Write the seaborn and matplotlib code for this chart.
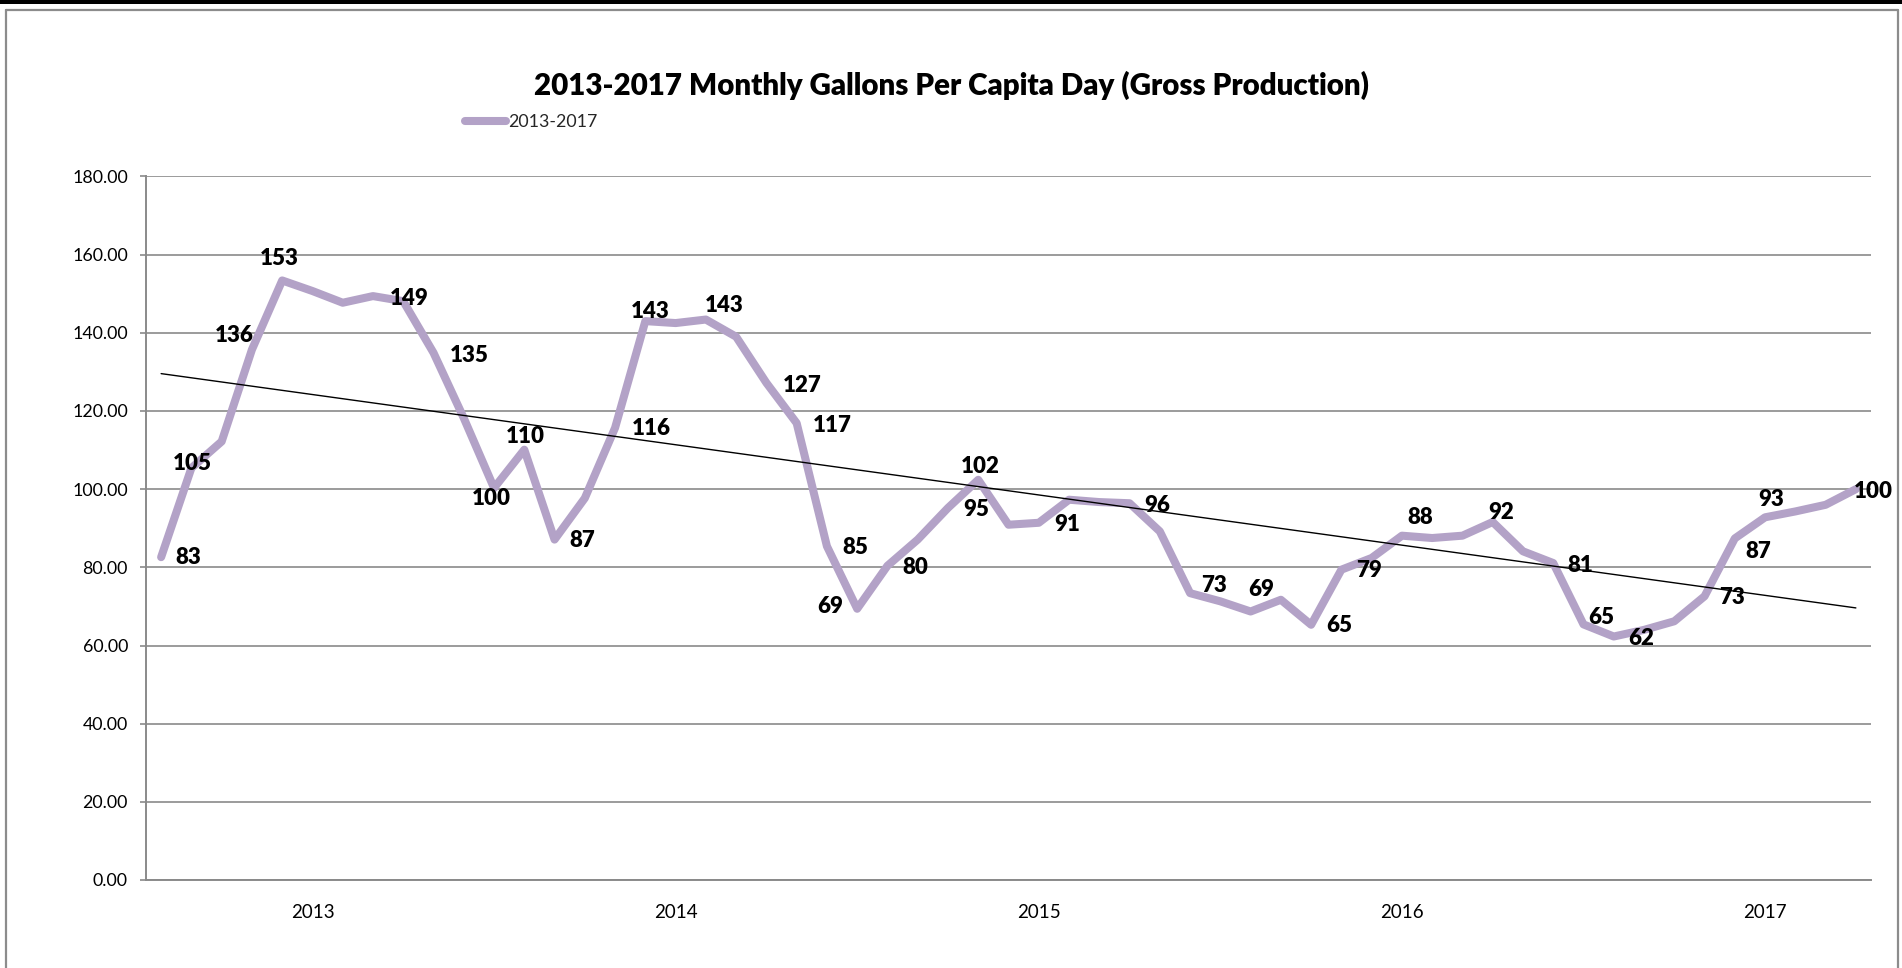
import numpy as np
import pandas as pd
import matplotlib
matplotlib.use("Agg")
import matplotlib.pyplot as plt
from matplotlib.lines import Line2D
from matplotlib.patches import Rectangle
import seaborn as sns

# ---------------- data ----------------
title = "2013-2017 Monthly Gallons Per Capita Day (Gross Production)"
series_name = "2013-2017"
gpcd = [82.6, 105.4, 112.2, 135.7, 153.4, 150.7, 147.7, 149.4, 148.1, 134.9,
        118.2, 100.3, 110.1, 87.1, 97.7, 115.7, 143.0, 142.5, 143.4, 139.0,
        127.2, 116.9, 85.4, 69.4, 80.4, 87.1, 95.2, 102.4, 90.9, 91.4,
        97.3, 96.7, 96.4, 89.2, 73.4, 71.3, 68.7, 71.7, 65.3, 79.4,
        82.4, 88.1, 87.5, 88.1, 91.6, 84.1, 81.1, 65.4, 62.3, 64.0,
        66.2, 72.6, 87.4, 92.8, 94.3, 96.0, 100.0]
year_tick_pos = [5, 17, 29, 41, 53]
year_tick_labels = ["2013", "2014", "2015", "2016", "2017"]
y_ticks = [0, 20, 40, 60, 80, 100, 120, 140, 160, 180]
labeled_points = [0, 1, 3, 4, 7, 9, 11, 12, 13, 15, 16, 18, 20, 21, 22, 23, 24,
                  26, 27, 29, 32, 34, 36, 38, 39, 41, 44, 46, 47, 48, 51, 52, 53, 56]

# label offsets (pixels, dx right, dy down) -- layout only
label_offsets = {0: (27, 0), 1: (1, -5), 3: (-18, -14), 4: (-3, -22), 7: (36, 2),
                 9: (36, 3), 11: (-3, 11), 12: (1, -13), 13: (28, 1), 15: (36, 1),
                 16: (5, -10), 18: (18, -14), 20: (36, 3), 21: (36, 2), 22: (28, 1),
                 23: (-27, -2), 24: (28, 2), 26: (28, 2), 27: (2, -13), 29: (28, 2),
                 32: (28, 2), 34: (24, -8), 36: (11, -22), 38: (28, 1), 39: (28, 1),
                 41: (18, -18), 44: (8, -9), 46: (27, 2), 47: (18, -7), 48: (27, 2),
                 51: (27, 1), 52: (23, 13), 53: (6, -18), 56: (17, 2)}

df = pd.DataFrame({"month": np.arange(len(gpcd)), "gpcd": gpcd})

# ---------------- style ----------------
sns.set_style("white")
plt.rcParams["font.family"] = ["Lato", "DejaVu Sans"]

W, H = 1902, 968
fig = plt.figure(figsize=(W / 100, H / 100), dpi=100)
ax = fig.add_axes([146 / W, 1 - 880 / H, (1871 - 146) / W, (880 - 176.5) / H])

line_color = "#B3A2C7"
grid_color = "#8A8A8A"

sns.lineplot(data=df, x="month", y="gpcd", ax=ax, color=line_color, linewidth=5.8,
             label=series_name, solid_joinstyle="round", solid_capstyle="round", zorder=3)
sns.regplot(data=df, x="month", y="gpcd", ax=ax, scatter=False, ci=None, truncate=True,
            line_kws=dict(color="black", linewidth=1.0, zorder=4))

ax.set_xlim(-0.5, len(gpcd) - 0.5)
ax.set_ylim(0, 180)
ax.set_yticks(y_ticks)
ax.set_yticklabels([f"{v:.2f}" for v in y_ticks])
ax.set_xticks(year_tick_pos)
ax.set_xticklabels(year_tick_labels)
ax.set_xlabel("")
ax.set_ylabel("")
ax.grid(axis="y", color=grid_color, linewidth=1.2)
ax.grid(axis="x", visible=False)
ax.set_axisbelow(True)
for s in ["top", "right"]:
    ax.spines[s].set_visible(False)
for s in ["left", "bottom"]:
    ax.spines[s].set_color(grid_color)
    ax.spines[s].set_linewidth(1.4)
ax.tick_params(axis="y", which="major", left=True, length=4, width=1.2, color=grid_color,
               labelsize=12.8, pad=9, labelcolor="black")
ax.tick_params(axis="x", which="major", bottom=False, labelsize=13.5, pad=14, labelcolor="black")

# data labels
for i in labeled_points:
    dx, dy = label_offsets[i]
    ax.annotate(f"{gpcd[i]:.0f}", xy=(i, gpcd[i]), xytext=(dx, -dy),
                textcoords="offset pixels", ha="center", va="center",
                fontsize=16, fontweight="heavy", color="black", zorder=5)

# legend
leg = ax.legend(loc="center left", bbox_to_anchor=(465 / W, 1 - 122 / H),
                bbox_transform=fig.transFigure, frameon=False, fontsize=12.8,
                handlelength=2.3, handletextpad=0.1, borderpad=0, borderaxespad=0)
for h in leg.get_lines():
    h.set_linewidth(5.8)

# title, scaled to match the reference width
t = fig.text(952 / W, 1 - 85 / H, title, ha="center", va="center",
             fontsize=24, fontweight="heavy", color="black")
fig.canvas.draw()
bb = t.get_window_extent()
t.set_fontsize(24 * 837 / bb.width)

# chart frame
fig.add_artist(Rectangle((0, 1 - 3.5 / H), 1, 3.5 / H, transform=fig.transFigure,
                         color="black", lw=0))
frame_kw = dict(transform=fig.transFigure, color="#8C8C8C", linewidth=1.6)
fig.add_artist(Line2D([5.5 / W, 5.5 / W], [0, 1 - 9.5 / H], **frame_kw))
fig.add_artist(Line2D([5.5 / W, 1898 / W], [1 - 9.5 / H, 1 - 9.5 / H], **frame_kw))
fig.add_artist(Line2D([1898 / W, 1898 / W], [0, 1 - 9.5 / H], **frame_kw))

fig.savefig("out.png", dpi=100)
